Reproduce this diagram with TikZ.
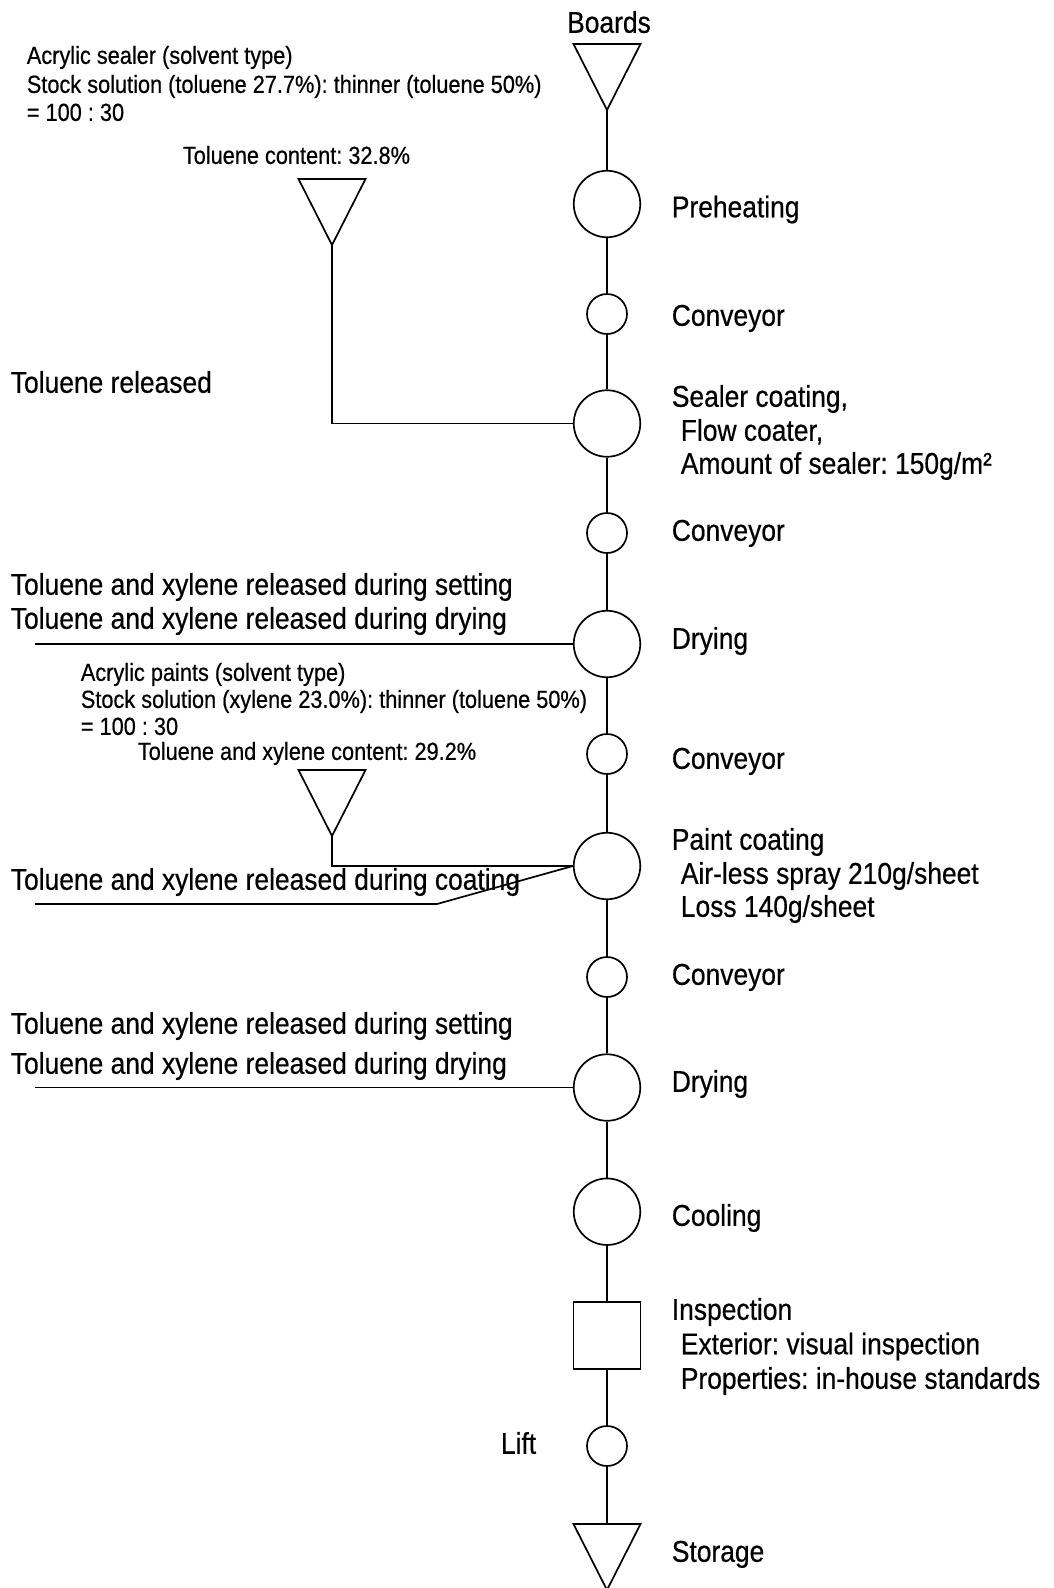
\documentclass[tikz,border=0pt]{standalone}
\usepackage{fontspec}
\setmainfont{Liberation Sans}[FakeStretch=0.88,FakeBold=0.5]
\frenchspacing
\begin{document}
\begin{tikzpicture}[x=1pt,y=-1pt,line width=1.7pt,
  stage/.style={draw,circle,inner sep=0pt,minimum size=66.5pt},
  move/.style={draw,circle,inner sep=0pt,minimum size=40pt},
  check/.style={draw,rectangle,inner sep=0pt,minimum size=67pt},
  big/.style={font=\fontsize{30}{34}\selectfont,inner sep=0pt,text height=21.5pt,text depth=0pt,anchor=west},
  small/.style={font=\fontsize{24.7}{28}\selectfont,inner sep=0pt,text height=17.7pt,text depth=0pt,anchor=west},
  feed/.pic={\draw (0,0) -- (-33.5,-66) -- (33.5,-66) -- cycle;}]
\fill[white] (0,0) rectangle (1053,1588);
\useasboundingbox (0,0) rectangle (1053,1588);

% main process line
\coordinate (boards) at (607,110);
\pic at (boards) {feed};
\node[stage] (preheat) at (607,204) {};
\node[move]  (conv1)   at (607,314) {};
\node[stage] (sealer)  at (607,423.5) {};
\node[move]  (conv2)   at (607,533) {};
\node[stage] (dry1)    at (607,644) {};
\node[move]  (conv3)   at (607,754) {};
\node[stage] (paint)   at (607,866) {};
\node[move]  (conv4)   at (607,977) {};
\node[stage] (dry2)    at (607,1087.5) {};
\node[stage] (cool)    at (607,1211.7) {};
\node[check] (insp)    at (607,1335.5) {};
\node[move]  (lift)    at (607,1446) {};
\coordinate (storage) at (607,1524);
\pic at (607,1590) {feed};

\draw (boards) -- (preheat);
\draw (preheat) -- (conv1);
\draw (conv1) -- (sealer);
\draw (sealer) -- (conv2);
\draw (conv2) -- (dry1);
\draw (dry1) -- (conv3);
\draw (conv3) -- (paint);
\draw (paint) -- (conv4);
\draw (conv4) -- (dry2);
\draw (dry2) -- (cool);
\draw (cool) -- (insp);
\draw (insp) -- (lift);
\draw (lift) -- (storage);

% material inputs
\coordinate (sealfeed) at (332,245);
\pic at (sealfeed) {feed};
\draw (sealfeed) |- (sealer.west);
\coordinate (paintfeed) at (332,836);
\pic at (paintfeed) {feed};
\draw (paintfeed) |- (paint.west);

% emissions
\coordinate (e1) at (35,644);
\draw (e1) -- (dry1.west);
\coordinate (e2) at (35,904);
\coordinate (e2bend) at (437,904);
\draw (e2) -- (e2bend) -- (paint.west);
\coordinate (e3) at (35,1087.5);
\draw (e3) -- (dry2.west);

% step labels
\node[big,anchor=center] (tboards) at (609,22) {Boards};
\node[big] (tpre) at (671,206.5) {Preheating};
\node[big] (tc1) at (671,315) {Conveyor};
\node[big] (ts1) at (671,396) {Sealer coating,};
\node[big] (ts2) at (680,430) {Flow coater,};
\node[big] (ts3) at (680,463) {Amount of sealer: 150g/m²};
\node[big] (tc2) at (671,530) {Conveyor};
\node[big] (td1) at (671,638) {Drying};
\node[big] (tc3) at (671,758) {Conveyor};
\node[big] (tp1) at (671,839) {Paint coating};
\node[big] (tp2) at (680,873) {Air-less spray 210g/sheet};
\node[big] (tp3) at (680,906) {Loss 140g/sheet};
\node[big] (tc4) at (671,974) {Conveyor};
\node[big] (td2) at (671,1081) {Drying};
\node[big] (tcool) at (671,1215) {Cooling};
\node[big] (ti1) at (671,1309) {Inspection};
\node[big] (ti2) at (680,1343.5) {Exterior: visual inspection};
\node[big] (ti3) at (680,1378) {Properties: in-house standards};
\node[big,anchor=east] (tlift) at (537,1443) {Lift};
\node[big] (tstore) at (671,1551) {Storage};

% emission labels
\node[big] (r1) at (10,382) {Toluene released};
\node[big] (r2) at (10,584) {Toluene and xylene released during setting};
\node[big] (r3) at (10,618) {Toluene and xylene released during drying};
\node[big] (r4) at (10,879) {Toluene and xylene released during coating};
\node[big] (r5) at (10,1023) {Toluene and xylene released during setting};
\node[big] (r6) at (10,1063) {Toluene and xylene released during drying};

% material notes
\node[small] (m1) at (26,55) {Acrylic sealer (solvent type)};
\node[small] (m2) at (26,84) {Stock solution (toluene 27.7\%): thinner (toluene 50\%)};
\node[small] (m3) at (26,112) {= 100 : 30};
\node[small] (m4) at (182,155) {Toluene content: 32.8\%};
\node[small] (n1) at (80,672) {Acrylic paints (solvent type)};
\node[small] (n2) at (80,699) {Stock solution (xylene 23.0\%): thinner (toluene 50\%)};
\node[small] (n3) at (80,726) {= 100 : 30};
\node[small] (n4) at (137,751) {Toluene and xylene content: 29.2\%};
\end{tikzpicture}
\end{document}
